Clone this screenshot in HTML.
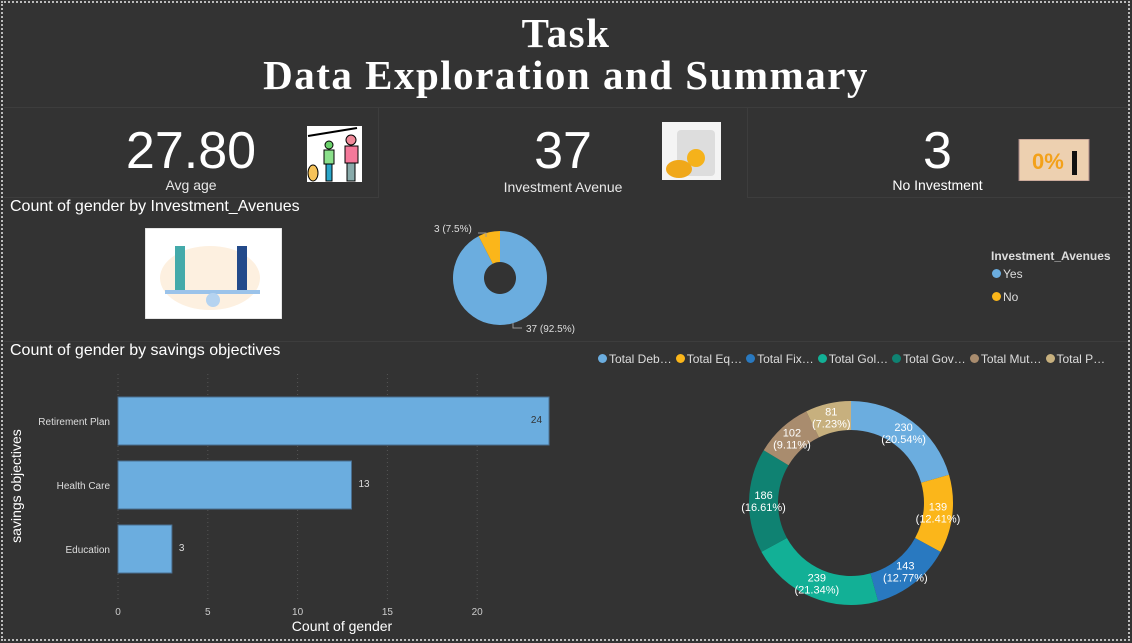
<!DOCTYPE html>
<html><head><meta charset="utf-8">
<style>
*{margin:0;padding:0;box-sizing:border-box}
body{width:1132px;height:643px;background:#333333;font-family:"Liberation Sans",Arial,sans-serif;position:relative;overflow:hidden;color:#fff}
.abs{position:absolute}
.frame{left:1px;top:1px;width:1129px;height:640px;border:2px dotted #bbb}
.title{left:0;top:12px;width:1132px;text-align:center;font-family:"Liberation Serif",serif;font-weight:bold;font-size:41px;line-height:42px;color:#fff;letter-spacing:1.5px}
.kpi{font-size:52px;line-height:52px;text-align:center}
.kpil{font-size:14px;text-align:center;color:#e8e8e8}
.sect{font-size:16px;color:#fff}
</style></head>
<body>
<div class="abs frame"></div>
<div class="abs title">Task<br>Data Exploration and Summary</div>
<div class="abs" style="left:4px;top:107px;width:1124px;height:1px;background:#3d3d3d"></div>
<div class="abs kpi" style="left:100px;top:125px;width:182px">27.80</div>
<div class="abs kpil" style="left:100px;top:177px;width:182px">Avg age</div>
<svg class="abs" style="left:307px;top:126px" width="55" height="56">
<rect width="55" height="56" fill="#fff"/><line x1="1" y1="10" x2="50" y2="2" stroke="#000" stroke-width="2"/>
<circle cx="22" cy="19" r="4" fill="#6bd06b" stroke="#000"/><rect x="17" y="24" width="10" height="14" fill="#8be08b" stroke="#000"/><rect x="19" y="38" width="6" height="17" fill="#2aa6c9" stroke="#000"/>
<circle cx="44" cy="14" r="5" fill="#f08a9a" stroke="#000"/><rect x="38" y="20" width="13" height="17" fill="#f4799a" stroke="#000"/><rect x="40" y="37" width="8" height="18" fill="#8aa" stroke="#000"/>
<ellipse cx="6" cy="47" rx="5" ry="8" fill="#f6c35a" stroke="#000"/></svg>
<div class="abs" style="left:378px;top:108px;width:1px;height:90px;background:#3d3d3d"></div>
<div class="abs kpi" style="left:480px;top:125px;width:166px">37</div>
<div class="abs kpil" style="left:480px;top:179px;width:166px">Investment Avenue</div>
<svg class="abs" style="left:662px;top:122px" width="59" height="61">
<rect width="59" height="61" fill="#f4f4f4"/><rect x="15" y="8" width="38" height="46" rx="4" fill="#ddd"/><circle cx="34" cy="36" r="9" fill="#f5b21b"/><ellipse cx="17" cy="47" rx="13" ry="9" fill="#f0a81a"/><rect x="0" y="58" width="59" height="3" fill="#333"/></svg>
<div class="abs" style="left:747px;top:108px;width:1px;height:90px;background:#3d3d3d"></div>
<div class="abs" style="left:747px;top:197px;width:380px;height:1px;background:#3d3d3d"></div>
<div class="abs kpi" style="left:860px;top:125px;width:155px">3</div>
<div class="abs kpil" style="left:860px;top:177px;width:155px;color:#fff">No Investment</div>
<svg class="abs" style="left:1012px;top:139px" width="78" height="42">
<rect x="7" width="70" height="42" fill="#edd0b0" stroke="#a88"/><text x="20" y="30" font-size="22" font-weight="bold" fill="#f3a11a" font-family="Liberation Sans">0%</text><rect x="60" y="12" width="5" height="24" fill="#111"/></svg>
<div class="abs" style="left:4px;top:197px;width:374px;height:1px;background:#3d3d3d"></div>

<div class="abs sect" style="left:10px;top:198px">Count of gender by Investment_Avenues</div>
<svg class="abs" style="left:145px;top:228px" width="137" height="91">
<rect width="137" height="91" fill="#fff" stroke="#ccc"/><ellipse cx="65" cy="50" rx="50" ry="32" fill="#fdf0e0"/><rect x="30" y="18" width="10" height="45" fill="#4aa" /><rect x="92" y="18" width="10" height="45" fill="#234a8a"/><rect x="20" y="62" width="95" height="4" fill="#9bc3ea"/><circle cx="68" cy="72" r="7" fill="#b5d3f0"/></svg>

<svg id="pie" class="abs" style="left:400px;top:215px" width="200" height="125"></svg>
<div class="abs" style="left:991px;top:249px;font-size:12px;font-weight:bold;color:#ddd">Investment_Avenues</div>
<div class="abs" style="left:992px;top:267px;font-size:12px;color:#ddd"><span style="display:inline-block;width:9px;height:9px;border-radius:50%;background:#6baddf;margin-right:2px"></span>Yes</div>
<div class="abs" style="left:992px;top:290px;font-size:12px;color:#ddd"><span style="display:inline-block;width:9px;height:9px;border-radius:50%;background:#fbb61a;margin-right:2px"></span>No</div>
<div class="abs" style="left:4px;top:341px;width:1124px;height:1px;background:#3d3d3d"></div>

<div class="abs sect" style="left:10px;top:342px">Count of gender by savings objectives</div>
<svg id="bar" class="abs" style="left:0;top:360px" width="566" height="280"></svg>

<div id="leg2" class="abs" style="left:598px;top:352px;font-size:12px;color:#ddd;white-space:nowrap"></div>
<svg id="donut" class="abs" style="left:700px;top:380px" width="300" height="250"></svg>

<script>
const NS="http://www.w3.org/2000/svg";
function mk(p,t,a){const e=document.createElementNS(NS,t);for(const k in a)e.setAttribute(k,a[k]);p.appendChild(e);return e;}
function arc(cx,cy,r0,r1,a0,a1){const p=(r,a)=>[cx+r*Math.sin(a),cy-r*Math.cos(a)];const l=a1-a0>Math.PI?1:0;
const[x0,y0]=p(r1,a0),[x1,y1]=p(r1,a1),[x2,y2]=p(r0,a1),[x3,y3]=p(r0,a0);
return `M${x0},${y0}A${r1},${r1} 0 ${l} 1 ${x1},${y1}L${x2},${y2}A${r0},${r0} 0 ${l} 0 ${x3},${y3}Z`;}

const pieCats=["Yes","No"];
const pieVals=[37,3];
const pieColors=["#6baddf","#fbb61a"];
const barCats=["Retirement Plan","Health Care","Education"];
const barVals=[24,13,3];
const barTicks=[0,5,10,15,20];
const donutCats=["Total Deb…","Total Eq…","Total Fix…","Total Gol…","Total Gov…","Total Mut…","Total P…"];
const donutVals=[230,139,143,239,186,102,81];
const donutColors=["#6baddf","#fbb61a","#2979c0","#12b096","#0f8272","#a98c6e","#c7b07e"];

(function(){const s=document.getElementById('pie');const cx=100,cy=63;const tot=pieVals.reduce((a,b)=>a+b,0);
let a=0;pieVals.forEach((v,i)=>{const a1=a+v/tot*2*Math.PI;const p=mk(s,'path',{d:arc(cx,cy,16,47,a,a1),fill:pieColors[i]});

a=a1;});
const pct=v=>(v/tot*100).toFixed(1)+'%';
mk(s,'path',{d:`M78,18 H86 V22`,stroke:'#999',fill:'none'});
const t1=mk(s,'text',{x:34,y:17,'font-size':10,fill:'#ddd'});t1.textContent=pieVals[1]+' ('+pct(pieVals[1])+')';
mk(s,'path',{d:`M113,108 V113 H122`,stroke:'#999',fill:'none'});
const t2=mk(s,'text',{x:126,y:117,'font-size':10,fill:'#ddd'});t2.textContent=pieVals[0]+' ('+pct(pieVals[0])+')';})();

(function(){const s=document.getElementById('bar');const x0=118,sc=17.96;const X=v=>x0+v*sc;
const band=64,top=37,bh=48;
barTicks.forEach(t=>{mk(s,'line',{x1:X(t),x2:X(t),y1:14,y2:240,stroke:'#555','stroke-dasharray':'1,3'});
const tx=mk(s,'text',{x:X(t),y:255,'font-size':10,fill:'#ccc','text-anchor':'middle'});tx.textContent=t;});
barCats.forEach((c,i)=>{const y=top+i*band;
const r=mk(s,'rect',{x:x0,y:y,width:X(barVals[i])-x0,height:bh,fill:'#6baddf',stroke:'#4a6f90'});


const l=mk(s,'text',{x:110,y:y+bh/2+4,'font-size':10,fill:'#ddd','text-anchor':'end'});l.textContent=c;
const inside=barVals[i]>20;
const v=mk(s,'text',{x:inside?X(barVals[i])-7:X(barVals[i])+7,y:y+bh/2+2,'font-size':10,fill:inside?'#333':'#ddd','text-anchor':inside?'end':'start'});v.textContent=barVals[i];});
const xt=mk(s,'text',{x:342,y:271,'font-size':14,fill:'#fff','text-anchor':'middle'});xt.textContent='Count of gender';
const yt=mk(s,'text',{x:0,y:0,'font-size':14,fill:'#fff','text-anchor':'middle',transform:'translate(21,126) rotate(-90)'});yt.textContent='savings objectives';})();

(function(){const L=document.getElementById('leg2');donutCats.forEach((c,i)=>{const sp=document.createElement('span');
sp.style.marginRight='4px';
sp.innerHTML=`<span style="display:inline-block;width:9px;height:9px;border-radius:50%;background:${donutColors[i]};margin-right:2px"></span>${c}`;

L.appendChild(sp);});})();

(function(){const s=document.getElementById('donut');const cx=151,cy=123,r0=73,r1=102;const tot=donutVals.reduce((a,b)=>a+b,0);
let a=0;donutVals.forEach((v,i)=>{const a1=a+v/tot*2*Math.PI;const p=mk(s,'path',{d:arc(cx,cy,r0,r1,a,a1),fill:donutColors[i]});


const m=(a+a1)/2,rr=(r0+r1)/2;const x=cx+rr*Math.sin(m),y=cy-rr*Math.cos(m);
const t=mk(s,'text',{x:x,y:y-2,'font-size':11,fill:'#fff','text-anchor':'middle'});t.textContent=v;
const t2=mk(s,'text',{x:x,y:y+10,'font-size':11,fill:'#fff','text-anchor':'middle'});t2.textContent='('+(v/tot*100).toFixed(2)+'%)';
a=a1;});})();
</script>
</body></html>
